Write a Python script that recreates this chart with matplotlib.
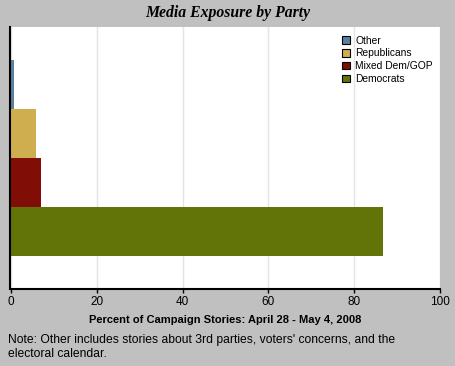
import matplotlib
matplotlib.use("Agg")
import matplotlib.pyplot as plt
from matplotlib.patches import Patch

# Data
parties = ["Democrats", "Mixed Dem/GOP", "Republicans", "Other"]
shares = [86.7, 7.0, 5.8, 0.8]
colors = ["#627308", "#800e06", "#cfae50", "#5b7fa0"]

plt.rcParams["font.family"] = ["Liberation Sans", "DejaVu Sans"]

fig = plt.figure(figsize=(4.55, 3.66), dpi=100, facecolor="#c0c0c0")
ax = fig.add_axes([11 / 455, 77 / 366, 429 / 455, 262 / 366])

ax.barh(range(len(parties)), shares, height=1.0, color=colors)

ax.set_xlim(0, 100)
ax.set_ylim(-1.17, 4.17)
ax.set_xticks([0, 20, 40, 60, 80, 100])
ax.set_yticks([])
ax.tick_params(axis="x", labelsize=8.5, length=3, width=1, pad=2)
ax.grid(axis="x", color="#e4e4e4", linewidth=1)
ax.set_axisbelow(True)

for side in ["top", "right"]:
    ax.spines[side].set_visible(False)
for side in ["left", "bottom"]:
    ax.spines[side].set_linewidth(1.5)
    ax.spines[side].set_color("black")
ax.spines["left"].set_position(("outward", 1))

ax.set_xlabel("Percent of Campaign Stories: April 28 - May 4, 2008",
              fontsize=8, fontweight="bold", labelpad=5)

handles = [Patch(facecolor=c, edgecolor="black", linewidth=0.8, label=p)
           for p, c in zip(parties, colors)][::-1]
ax.legend(handles=handles, loc="upper right", frameon=False, fontsize=7.4,
          handlelength=0.75, handleheight=0.75, handletextpad=0.5,
          labelspacing=0.28, bbox_to_anchor=(1.0, 0.995), borderaxespad=0.3)

fig.text(0.5, 1 - 13 / 366, "Media Exposure by Party", ha="center", va="center",
         fontsize=11.3, fontweight="bold", style="italic",
         family="Liberation Serif")

fig.text(8 / 455, 1 - 347 / 366,
         "Note: Other includes stories about 3rd parties, voters' concerns, and the\nelectoral calendar.",
         ha="left", va="center", fontsize=8.7, linespacing=1.15)

fig.savefig("out.png", dpi=100, facecolor=fig.get_facecolor())
